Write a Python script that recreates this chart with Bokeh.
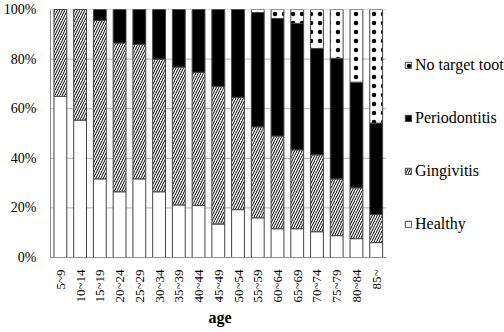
import math
from bokeh.plotting import figure
from bokeh.models import ColumnDataSource, FactorRange, Range1d, Legend, LegendItem, FixedTicker, Title
from bokeh.embed import file_html
from bokeh.resources import INLINE

ages = ["5~9", "10~14", "15~19", "20~24", "25~29", "30~34", "35~39", "40~44", "45~49",
        "50~54", "55~59", "60~64", "65~69", "70~74", "75~79", "80~84", "85~"]
# cumulative tops (%)
healthy_top = [65.0, 55.4, 31.7, 26.5, 31.7, 26.5, 21.2, 21.0, 13.5, 19.3, 16.0, 11.6, 11.6, 10.4, 8.8, 7.6, 6.0]
gingivitis_top = [100, 100, 95.6, 86.5, 86.0, 80.0, 76.8, 74.7, 69.0, 64.6, 52.7, 49.0, 43.4, 41.4, 31.7, 28.1, 17.3]
periodontitis_top = [100, 100, 100, 100, 100, 100, 100, 100, 100, 100, 98.8, 96.4, 94.4, 84.3, 80.3, 70.7, 54.2]

healthy = healthy_top
gingivitis = [round(g - h, 2) for g, h in zip(gingivitis_top, healthy_top)]
periodontitis = [round(p - g, 2) for p, g in zip(periodontitis_top, gingivitis_top)]
no_target = [round(100 - p, 2) for p in periodontitis_top]

series = ["Healthy", "Gingivitis", "Periodontitis", "No target tooth"]
y_ticks = [0, 20, 40, 60, 80, 100]

SERIF = "Liberation Serif"

source = ColumnDataSource(dict(age=ages, Healthy=healthy, Gingivitis=gingivitis,
                               Periodontitis=periodontitis, **{"No target tooth": no_target}))

# blank slots on the right of the category axis leave room for the legend
blank_slots = [" " * (i + 1) for i in range(6)]
x_range = FactorRange(*(ages + blank_slots))

p = figure(width=504, height=332, x_range=x_range, y_range=Range1d(0, 100),
           output_backend="svg", toolbar_location=None,
           min_border_left=42, min_border_right=0, min_border_top=9, min_border_bottom=75)
p.outline_line_color = None
p.background_fill_color = "white"

# horizontal grid lines spanning only the bar area
grid_y = [t for t in y_ticks if t > 0]
p.segment(x0=[(ages[0], -0.5)] * len(grid_y), x1=[(ages[-1], 0.5)] * len(grid_y),
          y0=grid_y, y1=grid_y, line_color="#b0b0b0", line_width=1)

rs = p.vbar_stack(series, x="age", width=0.65, source=source,
                  fill_color=["white", "white", "black", "white"],
                  line_color="#444444", line_width=1,
                  hatch_pattern=[" ", "/", " ", "."],
                  hatch_color="black",
                  hatch_scale=[12, 5, 12, 9],
                  hatch_weight=[1, 1, 1, 1])

# axes
p.xgrid.grid_line_color = None
p.ygrid.grid_line_color = None
p.yaxis.ticker = FixedTicker(ticks=y_ticks)
p.yaxis.major_label_overrides = {t: f"{t}%" for t in y_ticks}
p.yaxis.major_tick_line_color = None
p.yaxis.minor_tick_line_color = None
p.yaxis.axis_line_color = "#909090"
p.yaxis.major_label_standoff = 8
p.yaxis.major_label_text_font = SERIF
p.yaxis.major_label_text_font_size = "14px"
p.yaxis.major_label_text_color = "black"

p.xaxis.bounds = (0, len(ages))
p.xaxis.major_label_orientation = math.pi / 2
p.xaxis.major_tick_line_color = None
p.xaxis.axis_line_color = "#909090"
p.xaxis.major_label_standoff = 6
p.xaxis.major_label_text_font = SERIF
p.xaxis.major_label_text_font_size = "13px"
p.xaxis.major_label_text_color = "black"

age_title = Title(text="age", align="left", offset=158, standoff=3,
                  text_font=SERIF, text_font_size="16px", text_font_style="bold",
                  text_color="black")
p.add_layout(age_title, "below")

items = [LegendItem(label=series[i], renderers=[rs[i]]) for i in [3, 2, 1, 0]]
legend = Legend(items=items, location=(354, 23), orientation="vertical",
                glyph_width=8, glyph_height=8, label_height=20, spacing=33,
                label_standoff=3, padding=0, margin=0,
                border_line_color=None, background_fill_alpha=0,
                label_text_font=SERIF, label_text_font_size="16px",
                label_text_color="black")
p.add_layout(legend, "center")

open("out.html", "w").write(file_html(p, INLINE))
